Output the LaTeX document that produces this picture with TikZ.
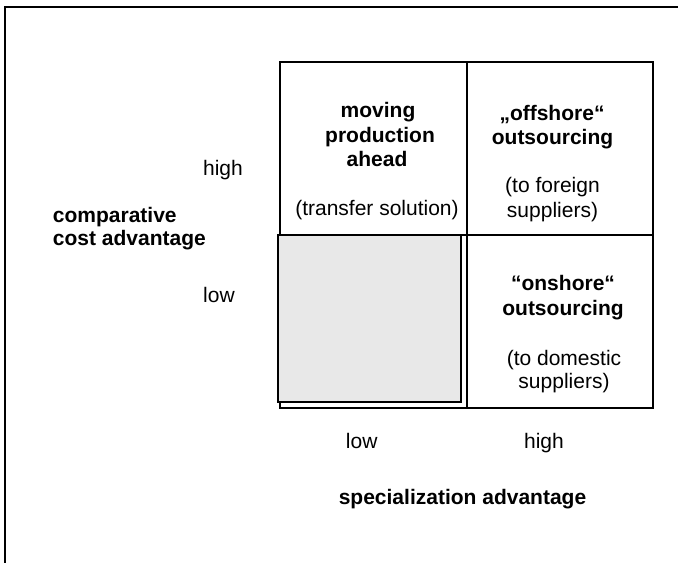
\documentclass[tikz,border=0pt]{standalone}
\usepackage{fontspec}
\setmainfont{Liberation Sans}
\begin{document}
\begin{tikzpicture}[x=1pt,y=-1pt,
  cell/.style={draw=black,line width=1.6pt},
  lbl/.style={font=\fontsize{21}{24.5}\selectfont,inner sep=0pt,anchor=base},
  blbl/.style={lbl,font=\fontsize{21}{24.5}\selectfont\bfseries}]
\useasboundingbox (0,0) rectangle (678,563);
\fill[white] (0,0) rectangle (678,563);
% frame
\draw[line width=2.2pt] (678,7) -- (5,7) -- (5,563);
% grid
\coordinate (tl) at (280,62);
\coordinate (tm) at (467,62);
\coordinate (tr) at (653,62);
\coordinate (ml) at (280,235);
\coordinate (mr) at (653,235);
\coordinate (bl) at (280,408);
\coordinate (bm) at (467,408);
\coordinate (br) at (653,408);
\draw[cell] (tl) rectangle (br);
\draw[cell] (tm) -- (bm);
\draw[cell] (ml) -- (mr);
% grey box
\node[draw=black,line width=1.5pt,fill={rgb,255:red,232;green,232;blue,232},minimum width=183pt,minimum height=167pt,inner sep=0pt] (grey) at (369.5,318.5) {};
% cell texts
\node[blbl] (mov1) at (378,117) {moving};
\node[blbl] (mov2) at (380,142) {production};
\node[blbl] (mov3) at (377,166.5) {ahead};
\node[lbl] (tra) at (377,215.5) {(transfer solution)};
\node[blbl] (off1) at (552,120.5) {„offshore“};
\node[blbl] (off2) at (552.5,144) {outsourcing};
\node[lbl] (forg1) at (552.5,192) {(to foreign};
\node[lbl] (forg2) at (552.5,217) {suppliers)};
\node[blbl] (on1) at (563,290.5) {“onshore“};
\node[blbl] (on2) at (563,315.5) {outsourcing};
\node[lbl] (dom1) at (564,365.5) {(to domestic};
\node[lbl] (dom2) at (564,388.5) {suppliers)};
% axis labels
\node[lbl] (hi) at (223,175.5) {high};
\node[lbl] (lo) at (219,302) {low};
\node[blbl,anchor=base west] (cca1) at (52.7,222) {comparative};
\node[blbl,anchor=base west] (cca2) at (52.7,245.5) {cost advantage};
\node[lbl] (xlo) at (361.7,448.5) {low};
\node[lbl] (xhi) at (544,448.5) {high};
\node[blbl] (spa) at (462.5,504) {specialization advantage};
\end{tikzpicture}
\end{document}
